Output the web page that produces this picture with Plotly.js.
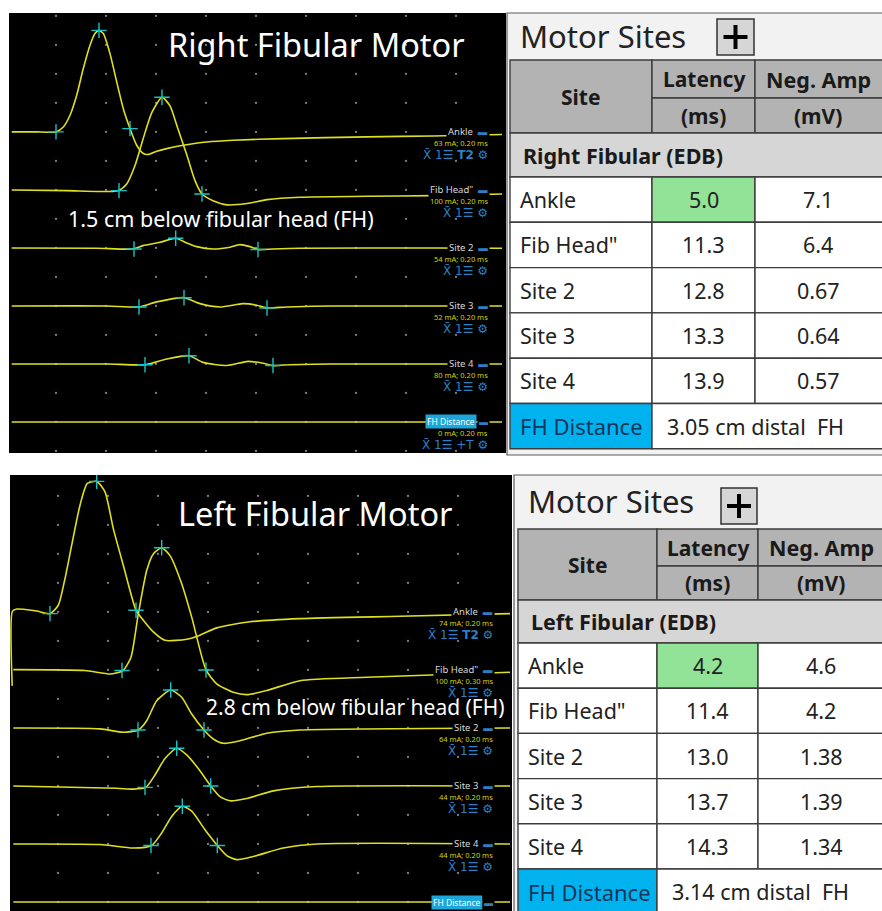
<!DOCTYPE html>
<html><head><meta charset="utf-8">
<script src="https://cdn.plot.ly/plotly-3.0.1.min.js"></script>
<style>html,body{margin:0;padding:0;background:#fff;overflow:hidden}#chart{width:882px;height:911px}</style>
</head><body><div id="chart"></div>
<script>
// ================= DATA =================
const siteNames = ["Ankle", "Fib Head\"", "Site 2", "Site 3", "Site 4"];
const fhLabel = "FH Distance";

const rightTitle = "Right Fibular Motor";
const rightNote = "1.5 cm below fibular head (FH)";
const rightGroup = "Right Fibular (EDB)";
const rightLatency = ["5.0", "11.3", "12.8", "13.3", "13.9"];
const rightAmp = ["7.1", "6.4", "0.67", "0.64", "0.57"];
const rightStim = ["63 mA; 0.20 ms", "100 mA; 0.20 ms", "54 mA; 0.20 ms", "52 mA; 0.20 ms", "80 mA; 0.20 ms", "0 mA; 0.20 ms"];
const rightFH = "3.05 cm distal  FH";

const leftTitle = "Left Fibular Motor";
const leftNote = "2.8 cm below fibular head (FH)";
const leftGroup = "Left Fibular (EDB)";
const leftLatency = ["4.2", "11.4", "13.0", "13.7", "14.3"];
const leftAmp = ["4.6", "4.2", "1.38", "1.39", "1.34"];
const leftStim = ["74 mA; 0.20 ms", "100 mA; 0.30 ms", "64 mA; 0.20 ms", "44 mA; 0.20 ms", "44 mA; 0.20 ms"];
const leftFH = "3.14 cm distal  FH";

// waveforms: time (ms) and deflection from baseline (mV)
const rAnkleT = [0.57, 3.0, 5.0, 5.73, 6.4, 7.07, 7.73, 8.4, 8.9, 9.3, 9.73, 10.4, 11.07, 11.73, 12.4, 13.07, 13.73, 14.2, 15.07, 16.07, 17.73, 20.07, 22.7, 27.7, 36.1, 42.7, 49.6];
const rAnkleV = [0, 0, 0, 0.34, 1.15, 2.53, 4.37, 5.98, 6.78, 7.0, 6.78, 5.4, 3.45, 1.6, 0.23, -0.92, -1.49, -1.56, -1.33, -1.15, -0.92, -0.69, -0.57, -0.46, -0.34, -0.28, -0.18];
const rFibT = [0.57, 6.07, 11.2, 12.07, 12.9, 13.7, 14.6, 15.6, 16.4, 17.2, 18.1, 18.9, 19.6, 20.7, 22.1, 24.1, 26.1, 29.4, 36.1, 42.7, 49.6];
const rFibV = [0, -0.05, -0.05, 0.41, 1.68, 3.5, 5.36, 6.39, 5.8, 4.2, 2.37, 0.64, -0.28, -0.74, -1.03, -0.94, -0.67, -0.5, -0.44, -0.39, -0.28];
const rSite2T = [0.57, 9.07, 12.7, 13.7, 15.4, 16.97, 18.07, 19.07, 20.7, 22.4, 23.4, 24.4, 25.2, 26.7, 29.4, 42.7, 49.6];
const rSite2V = [0, -0.02, -0.07, 0.16, 0.39, 0.67, 0.34, 0.09, -0.07, 0.05, 0.23, 0.09, -0.11, -0.07, -0.02, 0, -0.02];
const rSite3T = [0.57, 10.1, 13.3, 15.07, 17.8, 19.4, 21.4, 23.7, 25.07, 26.1, 28.1, 32.7, 49.6];
const rSite3V = [0, 0, -0.07, 0.28, 0.57, 0.16, -0.07, 0.16, 0.05, -0.14, -0.07, 0, 0];
const rSite4T = [0.57, 10.1, 13.9, 16.07, 18.3, 19.7, 22.1, 24.2, 25.7, 26.7, 28.4, 32.7, 49.6];
const rSite4V = [0, 0, -0.05, 0.34, 0.57, 0.11, -0.11, 0.18, 0.05, -0.11, -0.05, 0, 0];
const rFhdT = [0.57, 49.6];
const rFhdV = [0, 0];

const lAnkleT = [0.42, 0.44, 0.9, 1.53, 2.87, 4.2, 5.03, 5.7, 6.37, 7.2, 7.93, 8.87, 9.7, 10.53, 11.53, 12.8, 13.53, 14.53, 15.7, 17.87, 19.2, 20.87, 24.2, 29.2, 39.2, 50.2];
const lAnkleV = [-2.55, 0.02, 0.1, 0.09, 0.03, -0.06, 0.23, 1.15, 2.3, 3.68, 4.43, 4.5, 4.14, 2.87, 1.61, 0.06, -0.29, -0.69, -0.98, -0.94, -0.8, -0.55, -0.34, -0.23, -0.15, -0.06];
const lFibT = [0.53, 7.67, 10.3, 11.5, 12.3, 13.03, 13.87, 14.53, 15.37, 16.2, 17.37, 18.37, 19.8, 20.87, 22.53, 23.87, 25.87, 29.2, 35.87, 50.2];
const lFibV = [0.01, -0.02, -0.14, -0.02, 0.44, 1.93, 3.43, 4.0, 4.21, 3.94, 2.97, 1.82, 0, -0.48, -0.77, -0.85, -0.71, -0.37, -0.25, -0.08];
const lSite2T = [0.53, 9.2, 11.53, 13.03, 13.87, 14.87, 16.27, 17.37, 18.37, 19.6, 20.53, 21.53, 23.2, 25.87, 29.2, 50.2];
const lSite2V = [0, -0.03, -0.15, -0.07, 0.25, 0.94, 1.31, 1.06, 0.48, -0.07, -0.38, -0.53, -0.44, -0.18, -0.07, 0];
const lSite3T = [0.53, 10.87, 12.53, 13.77, 14.7, 15.7, 16.87, 17.87, 19.03, 20.27, 21.2, 22.2, 23.87, 26.53, 30.87, 50.2];
const lSite3V = [0, -0.08, -0.11, -0.05, 0.38, 0.95, 1.3, 1.07, 0.6, 0, -0.37, -0.51, -0.43, -0.17, -0.02, 0];
const lSite4T = [0.53, 9.2, 12.53, 14.37, 15.37, 16.37, 17.43, 18.37, 19.7, 20.93, 21.87, 22.87, 24.53, 27.53, 30.87, 50.2];
const lSite4V = [0, -0.02, -0.14, -0.05, 0.38, 0.95, 1.3, 1.13, 0.49, -0.05, -0.4, -0.54, -0.43, -0.14, 0, 0];
const lFhdT = [0.53, 50.2];
const lFhdV = [0, 0];

// cursor marks (onset, peak, end) per site
const rMarkT = [[5.0, 9.3, 12.4], [11.3, 15.6, 19.6], [12.8, 16.97, 25.2], [13.3, 17.8, 26.1], [13.9, 18.3, 26.7]];
const rMarkV = [[0, 7.0, 0.23], [-0.05, 6.39, -0.28], [-0.07, 0.67, -0.11], [-0.07, 0.57, -0.14], [-0.05, 0.57, -0.11]];
const lMarkT = [[4.2, 8.87, 12.8], [11.4, 15.37, 19.8], [13.0, 16.27, 19.6], [13.7, 16.87, 20.27], [14.3, 17.43, 20.93]];
const lMarkV = [[-0.06, 4.5, 0.06], [-0.02, 4.21, 0], [-0.07, 1.31, -0.07], [-0.05, 1.3, 0], [-0.05, 1.3, -0.05]];

// ================= BUILD =================
const W = 882, H = 911;
const yellow = '#dfdf22', cyan = '#19c2c2', iconBlue = '#2c80c3';
const FONT = 'Noto Sans, Open Sans, sans-serif';
const traces = [], shapes = [], annotations = [];

function addPanel(xa, ya, Ts, Vs, bases, mT, mV, dotY0, dotY1, dotStep) {
  const gx = [], gy = [];
  for (let t = 5; t <= 45; t += 5) for (let y = dotY0; y <= dotY1 + 1e-9; y += dotStep) { gx.push(t); gy.push(y); }
  traces.push({x: gx, y: gy, xaxis: xa, yaxis: ya, mode: 'markers', marker: {size: 2.3, color: '#808080'}, hoverinfo: 'skip', showlegend: false});
  Ts.forEach((T, i) => traces.push({x: T, y: Vs[i].map(v => v + bases[i]), xaxis: xa, yaxis: ya, mode: 'lines',
    line: {color: yellow, width: 1.6, shape: 'spline', smoothing: 0.6}, hoverinfo: 'skip', showlegend: false}));
  mT.forEach((T, i) => traces.push({x: T, y: mV[i].map(v => v + bases[i]), xaxis: xa, yaxis: ya, mode: 'markers',
    marker: {symbol: 'cross-thin', size: 11, color: cyan, line: {color: cyan, width: 1.4}}, hoverinfo: 'skip', showlegend: false}));
}

const topBase = [22, 18, 14, 10, 6, 2];
const botBase = [11, 9, 7, 5, 3, 1];
addPanel('x', 'y', [rAnkleT, rFibT, rSite2T, rSite3T, rSite4T, rFhdT], [rAnkleV, rFibV, rSite2V, rSite3V, rSite4V, rFhdV], topBase, rMarkT, rMarkV, 0, 30, 2);
addPanel('x2', 'y2', [lAnkleT, lFibT, lSite2T, lSite3T, lSite4T, lFhdT], [lAnkleV, lFibV, lSite2V, lSite3V, lSite4V, lFhdV], botBase, lMarkT, lMarkV, 1, 15, 1);

// black screens
[['x', 'y'], ['x2', 'y2']].forEach(([xa, ya]) => shapes.push({type: 'rect', xref: xa + ' domain', yref: ya + ' domain', x0: 0, x1: 1, y0: 0, y1: 1,
  fillcolor: '#000', line: {width: 0}, layer: 'below'}));

// trace labels
function addLabels(xa, ya, bases, stim, xRight, fhRight) {
  const names = siteNames.concat([fhLabel]);
  names.forEach((n, i) => {
    if (i < 5) {
      annotations.push({xref: xa, yref: ya, x: xRight, y: bases[i], xanchor: 'right', yanchor: 'middle', showarrow: false,
        text: n + '  <span style="color:' + iconBlue + '">▬</span>', bgcolor: '#000', borderpad: 1,
        font: {family: FONT, size: 9.5, color: '#d8d8d8'}});
    } else {
      annotations.push({xref: xa, yref: ya, x: fhRight, y: bases[i], xanchor: 'right', yanchor: 'middle', showarrow: false,
        text: n, bgcolor: '#1ca6dc', borderpad: 1, font: {family: FONT, size: 8.5, color: '#ffffff'}});
      annotations.push({xref: xa, yref: ya, x: xRight, y: bases[i], xanchor: 'right', yanchor: 'middle', showarrow: false,
        text: '▬', bgcolor: '#000', borderpad: 1, font: {family: FONT, size: 9, color: iconBlue}});
    }
    if (stim[i]) {
      annotations.push({xref: xa, yref: ya, x: xRight, y: bases[i], yshift: -11, xanchor: 'right', yanchor: 'middle', showarrow: false,
        text: stim[i], font: {family: FONT, size: 7.5, color: '#d2d200'}});
      annotations.push({xref: xa, yref: ya, x: xRight, y: bases[i], yshift: -23, xanchor: 'right', yanchor: 'middle', showarrow: false,
        text: 'X̄ 1☰ ' + (i === 0 ? '<b>T2</b> ' : (i === 5 ? '+T ' : '')) + '⚙', font: {family: 'DejaVu Sans', size: 12, color: iconBlue}});
    }
  });
}
addLabels('x', 'y', topBase, rightStim, 48.4, 47.1);
addLabels('x2', 'y2', botBase, leftStim.concat(['']), 48.7, 47.5);

// titles / notes (pixel overlay axis x3/y3)
function pxText(text, x, y, size, color, anchor, bold) {
  annotations.push({xref: 'x3', yref: 'y3', x: x, y: y, xanchor: anchor || 'center', yanchor: 'middle', showarrow: false,
    text: bold ? '<b>' + text + '</b>' : text, font: {family: FONT, size: size, color: color}});
}
pxText(rightTitle, 316, 44, 32.5, '#ffffff');
pxText(rightNote, 221, 218, 21.5, '#ffffff');
pxText(leftTitle, 315, 513, 32.5, '#ffffff');
pxText(leftNote, 355, 707, 21, '#ffffff');

// tables
const tableGeom = [
  {L: 507, l: 510, top: 13, tb: 60, cols: [510, 652, 755, 900], hm: 98, hb: 133, gb: 177, rh: 45.3, ob: 455, px: [717, 754], py: [19, 55]},
  {L: 514, l: 518, top: 475, tb: 529, cols: [518, 657, 758, 900], hm: 566, hb: 600, gb: 643, rh: 45.2, ob: 940, px: [721, 757], py: [488, 524]}
];
const gridLine = {color: '#3c3c3c', width: 1.4};
function rect(x0, x1, y0, y1, fill, line) {
  shapes.push({type: 'rect', xref: 'x3', yref: 'y3', x0: x0, x1: x1, y0: y0, y1: y1, fillcolor: fill, line: line || gridLine, layer: 'above'});
}
function addTable(g, group, lat, amp, fh) {
  const c = g.cols;
  rect(g.L, 905, g.top, g.ob, '#f2f2f2', {color: '#5a5a5a', width: 1.2});
  pxText('Motor Sites', g.l + 8, (g.top + g.tb) / 2 - 1, 31, '#222222', 'left');
  rect(g.px[0], g.px[1], g.py[0], g.py[1], '#d6d6d6', {color: '#333', width: 1.5});
  const mx = (g.px[0] + g.px[1]) / 2, my = (g.py[0] + g.py[1]) / 2;
  shapes.push({type: 'line', xref: 'x3', yref: 'y3', x0: mx - 12, x1: mx + 12, y0: my, y1: my, line: {color: '#000', width: 4}, layer: 'above'});
  shapes.push({type: 'line', xref: 'x3', yref: 'y3', x0: mx, x1: mx, y0: my - 12, y1: my + 12, line: {color: '#000', width: 4}, layer: 'above'});
  // header
  rect(c[0], c[1], g.tb, g.hb, '#b3b3b3');
  rect(c[1], c[2], g.tb, g.hm, '#b3b3b3');
  rect(c[1], c[2], g.hm, g.hb, '#b3b3b3');
  rect(c[2], c[3], g.tb, g.hm, '#b3b3b3');
  rect(c[2], c[3], g.hm, g.hb, '#b3b3b3');
  const c2x = (c[1] + c[2]) / 2, c3x = c[2] + 63;
  pxText('Site', (c[0] + c[1]) / 2, (g.tb + g.hb) / 2, 21, '#1a1a1a', 'center', true);
  pxText('Latency', c2x, (g.tb + g.hm) / 2, 21, '#1a1a1a', 'center', true);
  pxText('(ms)', c2x, (g.hm + g.hb) / 2, 21, '#1a1a1a', 'center', true);
  pxText('Neg. Amp', c3x, (g.tb + g.hm) / 2, 21.5, '#1a1a1a', 'center', true);
  pxText('(mV)', c3x, (g.hm + g.hb) / 2, 21, '#1a1a1a', 'center', true);
  // group row
  rect(c[0], c[3], g.hb, g.gb, '#d6d6d6');
  pxText(group, g.l + 11, (g.hb + g.gb) / 2, 21.5, '#1a1a1a', 'left', true);
  // data rows
  siteNames.forEach((n, i) => {
    const y0 = g.gb + i * g.rh, y1 = y0 + g.rh, ym = (y0 + y1) / 2;
    rect(c[0], c[1], y0, y1, '#ffffff');
    rect(c[1], c[2], y0, y1, i === 0 ? '#92e298' : '#ffffff');
    rect(c[2], c[3], y0, y1, '#ffffff');
    pxText(n, g.l + 8, ym, 21.5, '#222222', 'left');
    pxText(lat[i], c2x, ym, 21.5, '#222222');
    pxText(amp[i], c3x, ym, 21.5, '#222222');
  });
  const y0 = g.gb + 5 * g.rh, y1 = y0 + g.rh, ym = (y0 + y1) / 2;
  rect(c[0], c[1], y0, y1, '#00b2ee');
  rect(c[1], c[3], y0, y1, '#ffffff');
  pxText(fhLabel, g.l + 8, ym, 22, '#15355a', 'left');
  pxText(fh, c[1] + 13, ym, 21.5, '#222222', 'left');
}
addTable(tableGeom[0], rightGroup, rightLatency, rightAmp, rightFH);
addTable(tableGeom[1], leftGroup, leftLatency, leftAmp, leftFH);

const ax = {visible: false, showgrid: false, zeroline: false, fixedrange: true};
const layout = {
  width: W, height: H, margin: {l: 0, r: 0, t: 0, b: 0, pad: 0},
  paper_bgcolor: '#ffffff', plot_bgcolor: 'rgba(0,0,0,0)', showlegend: false,
  xaxis: Object.assign({}, ax, {domain: [9 / W, 506 / W], range: [0.3, 50], anchor: 'y'}),
  yaxis: Object.assign({}, ax, {domain: [1 - 453 / H, 1 - 13 / H], range: [-0.14, 30.2], anchor: 'x'}),
  xaxis2: Object.assign({}, ax, {domain: [10 / W, 512 / W], range: [0.2, 50.4], anchor: 'y2'}),
  yaxis2: Object.assign({}, ax, {domain: [0, 1 - 475 / H], range: [0.69, 15.72], anchor: 'x2'}),
  xaxis3: Object.assign({}, ax, {domain: [0, 1], range: [0, W], anchor: 'y3'}),
  yaxis3: Object.assign({}, ax, {domain: [0, 1], range: [H, 0], anchor: 'x3'}),
  shapes: shapes, annotations: annotations
};
Plotly.newPlot('chart', traces, layout, {staticPlot: true, displayModeBar: false});
</script>
</body></html>
